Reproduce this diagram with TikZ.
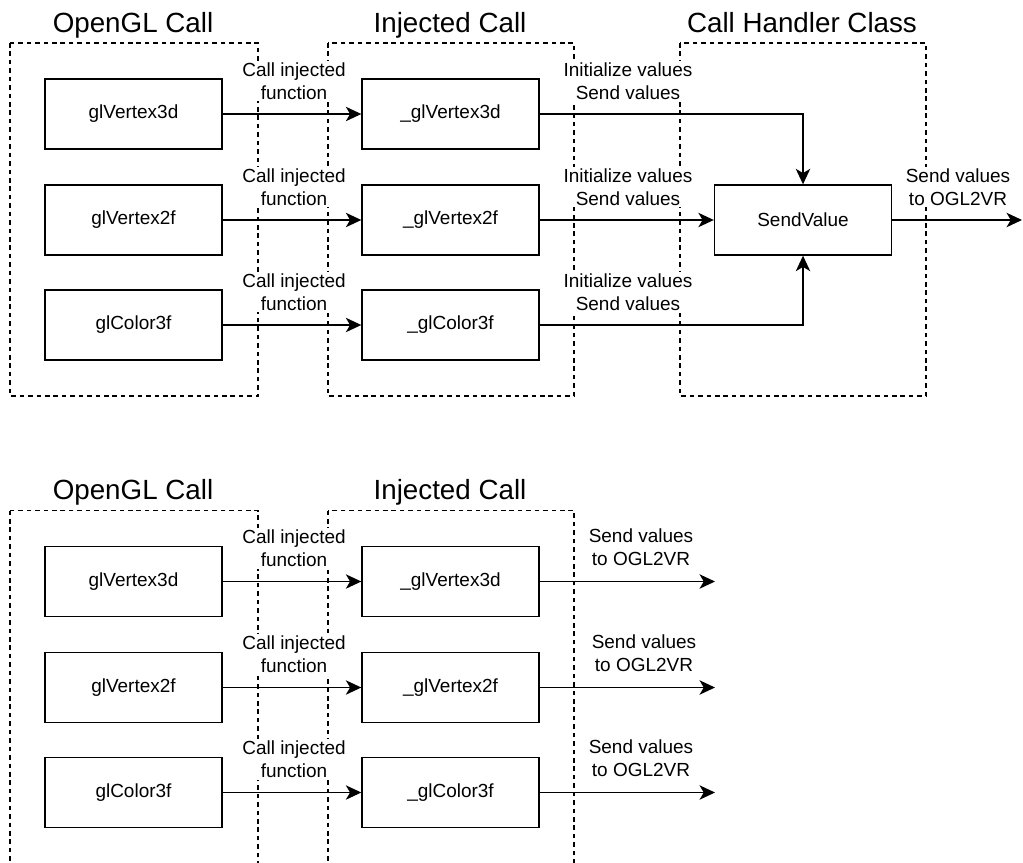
\documentclass[tikz,border=0pt]{standalone}
\usepackage{fontspec}
\setmainfont{Liberation Sans}
\usetikzlibrary{arrows.meta}

\begin{document}
\begin{tikzpicture}[x=0.02cm,y=-0.02cm,line width=0.8pt,font=\fontsize{10.8}{13.1}\selectfont]
  \tikzstyle{box}=[draw,rectangle,minimum width=3.54cm,minimum height=1.4cm,inner sep=0pt]
  \tikzstyle{gruppe}=[draw,dash pattern=on 2.6pt off 2.2pt]
  \tikzstyle{titel}=[anchor=base,font=\fontsize{15.8}{19}\selectfont]
  \tikzstyle{lbl}=[fill=white,align=center,inner sep=1pt]
  \tikzstyle{flow}=[-{Stealth[length=8.8pt,width=8.2pt,inset=2.4pt]}]

  \clip (0,0) rectangle (1023,862);

  % Gruppen oben
  \draw[gruppe] (10,43) rectangle (258,396);
  \draw[gruppe] (328,43) rectangle (574,396);
  \draw[gruppe] (680,43) rectangle (926,396);
  \node[titel] (t1) at (133,32) {OpenGL Call};
  \node[titel] (t2) at (450,32) {Injected Call};
  \node[titel] (t3) at (802,32) {Call Handler Class};

  % Aufrufe oben
  \foreach \i/\f/\y in {1/glVertex3d/114, 2/glVertex2f/220, 3/glColor3f/325} {
    \node[box] (a\i) at (133.5,\y) {\f};
    \node[box] (b\i) at (450.5,\y) {\_\f};
    \draw[flow] (a\i) -- (b\i);
    \node[lbl] (c\i) at (294,\y-33) {Call injected\\function};
    \node[lbl] (d\i) at (628,\y-33) {Initialize values\\Send values};
  }

  % Handler
  \node[box] (s) at (803,220) {SendValue};
  \draw[flow] (b1) -| (s);
  \draw[flow] (b2) -- (s);
  \draw[flow] (b3) -| (s);
  \coordinate (aus) at (1022,220);
  \draw[flow] (s) -- (aus);
  \node[lbl] (e) at (958,187) {Send values\\to OGL2VR};

  % Gruppen unten
  \draw[gruppe] (10,510.5) rectangle (258,863.5);
  \draw[gruppe] (328,510.5) rectangle (574,863.5);
  \node[titel] (t4) at (133,499.5) {OpenGL Call};
  \node[titel] (t5) at (450,499.5) {Injected Call};

  % Aufrufe unten
  \foreach \i/\f/\y/\lx in {4/glVertex3d/581.5/641, 5/glVertex2f/687.5/644, 6/glColor3f/792.5/641} {
    \node[box] (a\i) at (133.5,\y) {\f};
    \node[box] (b\i) at (450.5,\y) {\_\f};
    \draw[flow] (a\i) -- (b\i);
    \node[lbl] (c\i) at (294,\y-33) {Call injected\\function};
    \coordinate (o\i) at (715,\y);
    \draw[flow] (b\i) -- (o\i);
    \node[lbl] (d\i) at (\lx,\y-34) {Send values\\to OGL2VR};
  }

\end{tikzpicture}
\end{document}
